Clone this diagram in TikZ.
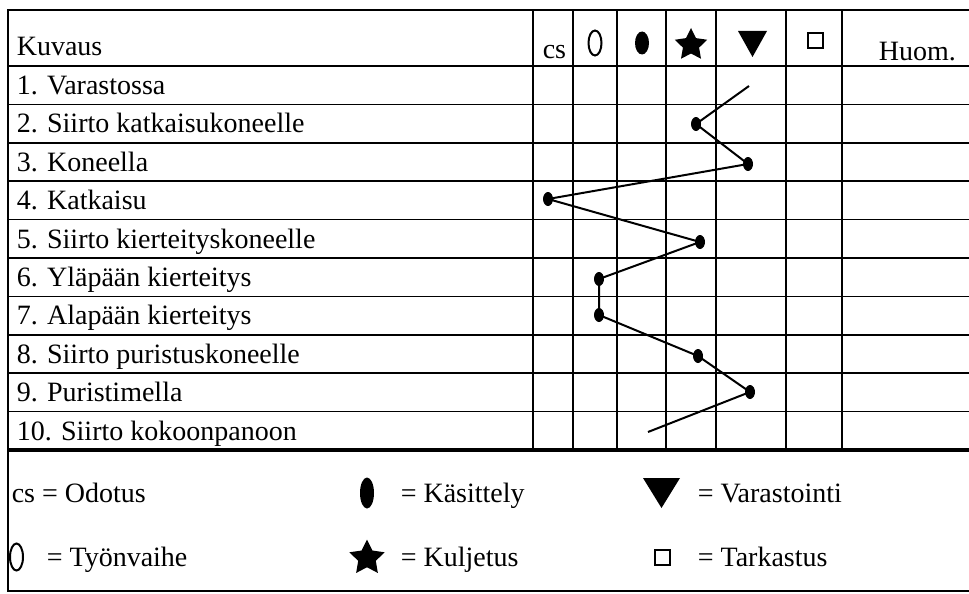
\documentclass[tikz,border=0pt]{standalone}
\usepackage{fontspec}
\setmainfont{Liberation Serif}
\usetikzlibrary{shapes.geometric}
\begin{document}
\begin{tikzpicture}[x=1pt,y=-1pt,line width=1.6pt,
  txt/.style={anchor=base west,inner sep=0pt,font=\fontsize{28}{32}\selectfont},
  legtxt/.style={anchor=base west,inner sep=0pt,font=\fontsize{28}{32}\selectfont},
  dot/.style={ellipse,fill,inner sep=0pt,minimum width=10pt,minimum height=14pt},
  oval/.style={ellipse,draw,line width=2pt,inner sep=0pt},
  blob/.style={ellipse,fill,inner sep=0pt},
  starsym/.style={star,star points=5,star point ratio=2,fill,inner sep=0pt}]
\useasboundingbox (0,0) rectangle (969,594);

% frame and grid
\draw (969,10) -- (8,10) -- (8,591) -- (969,591);
\foreach \k in {0,...,9}
{
\draw (8,{66+38.4*\k}) -- (969,{66+38.4*\k});
}
\foreach \x in {533,573,617,666,716,786,842}
{
\draw (\x,10) -- (\x,450);
}
\draw[line width=4pt] (8,450) -- (969,450);

% header
\node[txt] (kuvaus) at (16,56) {Kuvaus};
\node[txt] (cs) at (542,59) {cs};
\node[oval,minimum width=13pt,minimum height=25pt] (hoval) at (595,43) {};
\node[blob,minimum width=14pt,minimum height=23pt] (hblob) at (642,43) {};
\node[starsym,minimum size=34pt] (hstar) at (691,45) {};
\fill (738,31) -- (767,31) -- (752.5,57) -- cycle;
\draw[line width=2pt] (807.5,33) rectangle (822.5,48);
\node[txt] (huom) at (878,60) {Huom.};

% rows
\foreach \i/\t in {1/Varastossa,2/Siirto katkaisukoneelle,3/Koneella,4/Katkaisu,
  5/Siirto kierteityskoneelle,6/Yläpään kierteitys,7/Alapään kierteitys,
  8/Siirto puristuskoneelle,9/Puristimella,10/Siirto kokoonpanoon}
{
\node[txt] (row\i) at (16,{66+38.4*\i-10}) {\i. \t};
}

% flow line
\coordinate (p1) at (749,86);
\node[dot] (p2) at (696,124) {};
\node[dot] (p3) at (748,164) {};
\node[dot] (p4) at (548,199) {};
\node[dot] (p5) at (700,242) {};
\node[dot] (p6) at (599,279) {};
\node[dot] (p7) at (599,315) {};
\node[dot] (p8) at (698,356) {};
\node[dot] (p9) at (750,392) {};
\coordinate (p10) at (648,432);
\draw[line width=2pt] (p1) -- (p2.center) -- (p3.center) -- (p4.center) -- (p5.center)
  -- (p6.center) -- (p7.center) -- (p8.center) -- (p9.center) -- (p10);

% legend
\node[legtxt] (lcs) at (11,502) {cs = Odotus};
\node[blob,minimum width=14pt,minimum height=31pt] (lblob) at (367,493) {};
\node[legtxt] (lkas) at (400,502) {= Käsittely};
\fill (643,478) -- (680,478) -- (661.5,508) -- cycle;
\node[legtxt] (lvar) at (697,502) {= Varastointi};
\node[oval,minimum width=13pt,minimum height=27pt] (loval) at (16.5,557) {};
\node[legtxt] (ltyo) at (46,566) {= Työnvaihe};
\node[starsym,minimum size=37pt] (lstar) at (367,558) {};
\node[legtxt] (lkul) at (400,566) {= Kuljetus};
\draw[line width=2pt] (654.5,550) rectangle (669.5,565);
\node[legtxt] (ltar) at (697,566) {= Tarkastus};
\end{tikzpicture}
\end{document}
